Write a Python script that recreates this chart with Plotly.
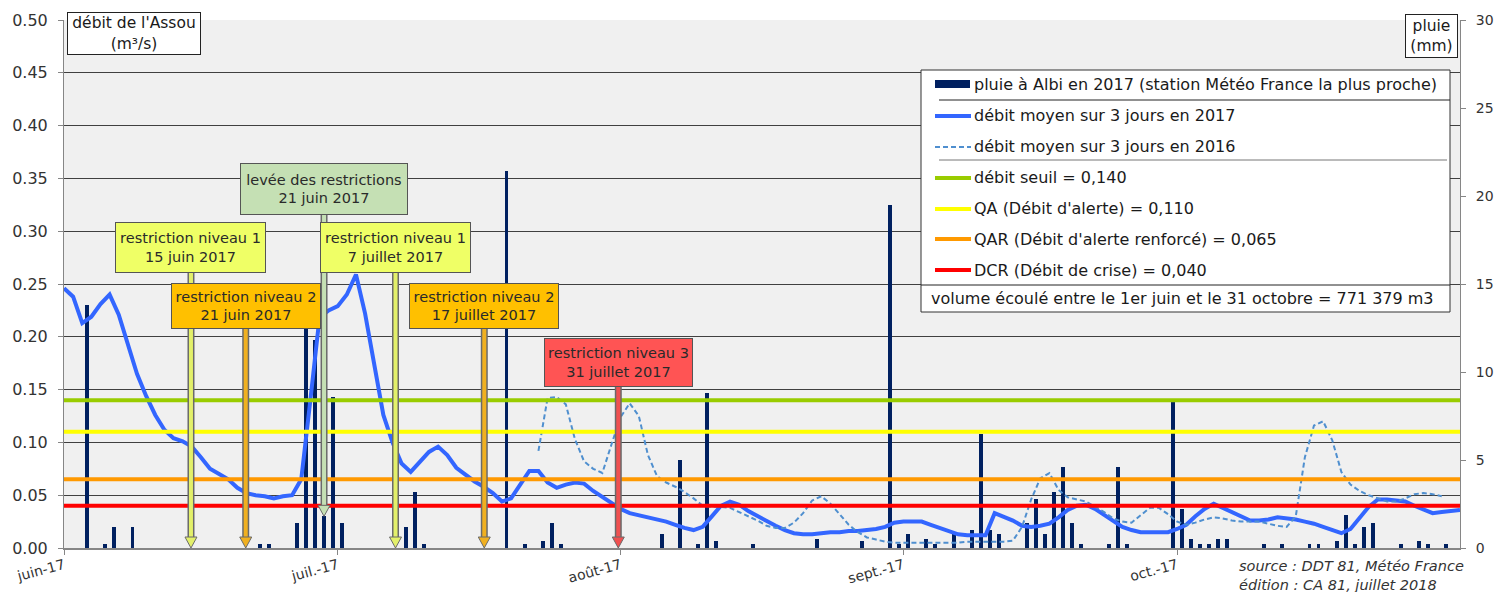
import pandas as pd
import plotly.graph_objects as go

# ---------------- data ----------------
START_2017 = "2017-06-01"
flow_2017 = [
    0.246, 0.238, 0.213, 0.219, 0.231, 0.240, 0.221, 0.192, 0.165, 0.144,
    0.126, 0.112, 0.104, 0.101, 0.096, 0.086, 0.075, 0.070, 0.065, 0.057,
    0.052, 0.050, 0.049, 0.047, 0.049, 0.050, 0.065, 0.140, 0.218, 0.225,
    0.229, 0.240, 0.259, 0.222, 0.172, 0.126, 0.100, 0.080, 0.072, 0.081,
    0.091, 0.096, 0.088, 0.076, 0.069, 0.063, 0.058, 0.052, 0.044, 0.047,
    0.060, 0.073, 0.073, 0.062, 0.057, 0.060, 0.062, 0.061, 0.054, 0.048,
    0.042, 0.037, 0.033, 0.031, 0.029, 0.027, 0.025, 0.022, 0.019, 0.017,
    0.020, 0.030, 0.040, 0.044, 0.041, 0.035, 0.030, 0.025, 0.021, 0.017,
    0.014, 0.013, 0.013, 0.014, 0.015, 0.015, 0.016, 0.016, 0.017, 0.018,
    0.020, 0.024, 0.025, 0.025, 0.025, 0.022, 0.019, 0.016, 0.013, 0.012,
    0.012, 0.012, 0.033, 0.030, 0.026, 0.021, 0.020, 0.021, 0.023, 0.029,
    0.036, 0.040, 0.041, 0.037, 0.031, 0.025, 0.020, 0.017, 0.015, 0.015,
    0.015, 0.015, 0.018, 0.022, 0.030, 0.037, 0.042, 0.038, 0.034, 0.030,
    0.026, 0.026, 0.027, 0.029, 0.028, 0.027, 0.025, 0.023, 0.020, 0.017,
    0.014, 0.018, 0.028, 0.039, 0.046, 0.046, 0.045, 0.044, 0.040, 0.036,
    0.033, 0.034, 0.035, 0.036,
]

START_2016 = "2017-07-23"
flow_2016 = [
    0.092, 0.142, 0.143, 0.136, 0.103, 0.082, 0.075, 0.071, 0.098, 0.124,
    0.137, 0.125, 0.088, 0.068, 0.062, 0.058, 0.053, 0.047, 0.040, 0.039,
    0.039, 0.038, 0.034, 0.030, 0.026, 0.021, 0.019, 0.019, 0.024, 0.033,
    0.045, 0.049, 0.042, 0.032, 0.022, 0.015, 0.010, 0.008, 0.006, 0.005,
    0.005, 0.005, 0.005, 0.005, 0.005, 0.005, 0.005, 0.006, 0.006, 0.006,
    0.006, 0.006, 0.007, 0.020, 0.046, 0.066, 0.071, 0.055, 0.048, 0.046,
    0.044, 0.039, 0.034, 0.028, 0.025, 0.024, 0.031, 0.038, 0.038, 0.032,
    0.025, 0.022, 0.024, 0.027, 0.029, 0.028, 0.026, 0.025, 0.025, 0.025,
    0.023, 0.021, 0.020, 0.030, 0.086, 0.116, 0.120, 0.102, 0.072, 0.060,
    0.054, 0.050, 0.047, 0.044, 0.044, 0.047, 0.051, 0.052, 0.051, 0.049,
]

rain_dates = [
    "2017-06-03", "2017-06-05", "2017-06-06", "2017-06-08", "2017-06-22", "2017-06-23",
    "2017-06-26", "2017-06-27", "2017-06-28", "2017-06-29", "2017-06-30", "2017-07-01",
    "2017-07-08", "2017-07-09", "2017-07-10", "2017-07-19", "2017-07-21", "2017-07-23",
    "2017-07-24", "2017-07-25", "2017-08-05", "2017-08-07", "2017-08-09", "2017-08-10",
    "2017-08-11", "2017-08-15", "2017-08-22", "2017-08-27", "2017-08-30", "2017-08-31",
    "2017-09-01", "2017-09-03", "2017-09-04", "2017-09-06", "2017-09-08", "2017-09-09",
    "2017-09-10", "2017-09-11", "2017-09-14", "2017-09-15", "2017-09-16", "2017-09-17",
    "2017-09-18", "2017-09-19", "2017-09-20", "2017-09-23", "2017-09-24", "2017-09-25",
    "2017-09-30", "2017-10-01", "2017-10-02", "2017-10-03", "2017-10-04", "2017-10-05",
    "2017-10-06", "2017-10-10", "2017-10-12", "2017-10-15", "2017-10-16", "2017-10-18",
    "2017-10-19", "2017-10-20", "2017-10-21", "2017-10-22", "2017-10-25", "2017-10-27",
    "2017-10-28", "2017-10-30",
]
rain_mm = [
    13.8, 0.2, 1.2, 1.2, 0.2, 0.2,
    1.4, 13.5, 11.8, 1.8, 8.6, 1.4,
    1.2, 3.2, 0.2, 21.4, 0.2, 0.4,
    1.4, 0.2, 0.8, 5.0, 0.2, 8.8,
    0.4, 0.2, 0.5, 0.4, 19.5, 0.2,
    0.8, 0.5, 0.2, 0.8, 1.0, 6.5,
    1.0, 0.8, 1.4, 2.8, 0.8, 3.2,
    4.6, 1.4, 0.2, 0.2, 4.6, 0.2,
    8.3, 2.2, 0.5, 0.2, 0.2, 0.5,
    0.5, 0.2, 0.2, 0.2, 0.2, 0.4,
    1.9, 0.2, 1.2, 1.4, 0.2, 0.4,
    0.2, 0.2,
]

threshold_names = ["débit seuil = 0,140", "QA (Débit d'alerte) = 0,110",
                   "QAR (Débit d'alerte renforcé) = 0,065", "DCR (Débit de crise) = 0,040"]
threshold_values = [0.140, 0.110, 0.065, 0.040]

event_labels = ["restriction niveau 1<br>15 juin 2017", "restriction niveau 2<br>21 juin 2017",
                "levée des restrictions<br>21 juin 2017", "restriction niveau 1<br>7 juillet 2017",
                "restriction niveau 2<br>17 juillet 2017", "restriction niveau 3<br>31 juillet 2017"]
event_dates = ["2017-06-14 22:00", "2017-06-20 22:00", "2017-06-29 12:00",
               "2017-07-07 08:00", "2017-07-17 01:30", "2017-07-31 18:00"]

month_ticks = ["2017-06-01", "2017-07-01", "2017-08-01", "2017-09-01", "2017-10-01"]
month_labels = ["juin-17", "juil.-17", "août-17", "sept.-17", "oct.-17"]

volume_text = "volume écoulé entre le 1er juin et le 31 octobre = 771 379 m3"

# ---------------- styles / layout ----------------
FONT = "Verdana, DejaVu Sans, sans-serif"
TXT = "#333333"
W, H = 1497, 592
PL, PR, PT, PB = 64, 1460, 20, 548
YMAX = 0.5
PX_PER_UNIT = (PB - PT) / YMAX


def px(x):
    return (x - PL) / (PR - PL)


def py(y):
    return (PB - y) / (PB - PT)


NAVY = "#002060"
BLUE17 = "#3366ff"
BLUE16 = "#4f8fcf"
thr_colors = ["#99cc00", "#ffff00", "#ff9900", "#ff0000"]

ev_fill = ["#efff66", "#ffc000", "#c5e0b4", "#efff66", "#ffc000", "#ff5454"]
ev_arrow = ["#e3f06a", "#f0b020", "#c5e0b4", "#e3f06a", "#f0b020", "#f05050"]
ev_box_y = [0.285, 0.2296, 0.3404, 0.285, 0.2296, 0.176]
ev_tip_y = [0.0, 0.0, 0.030, 0.0, 0.0, 0.0]
ev_w = [147, 146, 164, 147, 146, 145]
ev_h = [47, 42, 48, 47, 42, 45]

x17 = pd.date_range(START_2017, periods=len(flow_2017), freq="D")
x16 = pd.date_range(START_2016, periods=len(flow_2016), freq="D")
xr = pd.to_datetime(rain_dates) + pd.Timedelta(hours=12)
x_start, x_end = pd.Timestamp("2017-06-01"), pd.Timestamp("2017-11-01")

fig = go.Figure()
fig.add_trace(go.Bar(x=xr, y=rain_mm, yaxis="y", marker=dict(color=NAVY, line=dict(width=0)),
                     width=0.42 * 86400000, name="pluie à Albi en 2017 (station Météo France la plus proche)",
                     showlegend=False))
fig.add_trace(go.Scatter(x=x17, y=flow_2017, yaxis="y2", mode="lines",
                         line=dict(color=BLUE17, width=4), name="débit moyen sur 3 jours en 2017",
                         showlegend=False))
fig.add_trace(go.Scatter(x=x16, y=flow_2016, yaxis="y2", mode="lines",
                         line=dict(color=BLUE16, width=2, dash="5px,3px"),
                         name="débit moyen sur 3 jours en 2016", showlegend=False))
for name, v, c in zip(threshold_names, threshold_values, thr_colors):
    fig.add_trace(go.Scatter(x=[x_start, x_end], y=[v, v], yaxis="y2", mode="lines",
                             line=dict(color=c, width=4), name=name, showlegend=False))

shapes = []
annotations = []

# callouts with arrows
head_h = 11
for lab, d, fill, afill, by, ty, bw, bh in zip(event_labels, event_dates, ev_fill, ev_arrow,
                                                ev_box_y, ev_tip_y, ev_w, ev_h):
    y_head_top = ty + head_h / PX_PER_UNIT
    shapes.append(dict(type="line", xref="x", yref="y2", x0=d, x1=d, y0=y_head_top, y1=by,
                       line=dict(color="#6a6a6a", width=7), layer="above"))
    shapes.append(dict(type="line", xref="x", yref="y2", x0=d, x1=d, y0=y_head_top, y1=by,
                       line=dict(color=afill, width=4), layer="above"))
    shapes.append(dict(type="path", xref="x", yref="y2", xsizemode="pixel", ysizemode="pixel",
                       xanchor=d, yanchor=ty, path="M -6 11 L 6 11 L 0 0 Z",
                       fillcolor=afill, line=dict(color="#6a6a6a", width=1), layer="above"))
    annotations.append(dict(x=d, y=by, xref="x", yref="y2", text=lab, showarrow=False,
                            bgcolor=fill, bordercolor="#555555", borderwidth=1, borderpad=1,
                            width=bw, height=bh, align="center", valign="middle",
                            font=dict(family=FONT, size=14.5, color="#2a2a2a")))

# manual legend box
LX0, LX1, LY0, LY1 = 921, 1450, 70, 312
shapes.append(dict(type="rect", xref="paper", yref="paper", x0=px(LX0), x1=px(LX1),
                   y0=py(LY1), y1=py(LY0), fillcolor="white", line=dict(color="#333333", width=1),
                   layer="above"))
shapes.append(dict(type="line", xref="paper", yref="paper", x0=px(939), x1=px(LX1), y0=py(100),
                   y1=py(100), line=dict(color="#222222", width=1), layer="above"))
shapes.append(dict(type="line", xref="paper", yref="paper", x0=px(939), x1=px(1447), y0=py(160),
                   y1=py(160), line=dict(color="#777777", width=1), layer="above"))
shapes.append(dict(type="line", xref="paper", yref="paper", x0=px(LX0), x1=px(LX1), y0=py(285),
                   y1=py(285), line=dict(color="#222222", width=1), layer="above"))

leg_names = ["pluie à Albi en 2017 (station Météo France la plus proche)",
             "débit moyen sur 3 jours en 2017", "débit moyen sur 3 jours en 2016"] + threshold_names
leg_rows = [84, 116, 147, 178, 209, 239, 270]
leg_styles = [None, dict(color=BLUE17, width=4), dict(color=BLUE16, width=2, dash="5px,3px")] + \
             [dict(color=c, width=4) for c in thr_colors]
LEG_FS = 16
for name, row, st in zip(leg_names, leg_rows, leg_styles):
    if st is None:
        shapes.append(dict(type="rect", xref="paper", yref="paper", x0=px(935), x1=px(970),
                           y0=py(row + 4), y1=py(row - 4), fillcolor=NAVY, line=dict(width=0),
                           layer="above"))
    else:
        shapes.append(dict(type="line", xref="paper", yref="paper", x0=px(935), x1=px(971),
                           y0=py(row), y1=py(row), line=st, layer="above"))
    annotations.append(dict(x=px(972), y=py(row), xref="paper", yref="paper", text=name,
                            showarrow=False, xanchor="left", yanchor="middle",
                            font=dict(family=FONT, size=LEG_FS, color="#1a1a1a")))
annotations.append(dict(x=px(929), y=py(299), xref="paper", yref="paper", text=volume_text,
                        showarrow=False, xanchor="left", yanchor="middle",
                        font=dict(family=FONT, size=LEG_FS, color="#1a1a1a")))

# axis title boxes
annotations.append(dict(x=px(67), y=py(12), xref="paper", yref="paper", xanchor="left", yanchor="top",
                        text="débit de l'Assou<br>(m³/s)", showarrow=False, bgcolor="white",
                        bordercolor="#222222", borderwidth=1, borderpad=1, width=130, height=39,
                        font=dict(family=FONT, size=15.5, color="#1a1a1a")))
annotations.append(dict(x=px(1405), y=py(14), xref="paper", yref="paper", xanchor="left", yanchor="top",
                        text="pluie<br>(mm)", showarrow=False, bgcolor="white",
                        bordercolor="#222222", borderwidth=1, borderpad=1, width=49, height=40,
                        font=dict(family=FONT, size=15.5, color="#1a1a1a")))

# source
annotations.append(dict(x=px(1237), y=py(575), xref="paper", yref="paper", xanchor="left",
                        yanchor="middle", align="left", showarrow=False,
                        text="<i>source : DDT 81, Météo France</i><br><i>édition : CA 81, juillet 2018</i>",
                        font=dict(family=FONT, size=14.5, color="#333333")))

fig.update_layout(
    width=W, height=H,
    margin=dict(l=PL, r=W - PR, t=PT, b=H - PB, pad=0, autoexpand=False),
    paper_bgcolor="white", plot_bgcolor="#f0f0f0",
    showlegend=False, bargap=0,
    font=dict(family=FONT, color=TXT),
    xaxis=dict(type="date", range=[x_start, x_end], tickvals=month_ticks, ticktext=month_labels,
               tickangle=-15, ticks="outside", ticklen=5, tickcolor="#868686", showline=True,
               linecolor="#868686", linewidth=2, showgrid=False, zeroline=False, automargin=False,
               ticklabelstandoff=-3, tickfont=dict(family=FONT, size=14, color=TXT)),
    yaxis=dict(range=[0, 30], side="right", dtick=5, tick0=0, ticks="outside", ticklen=5,
               tickcolor="#868686", showline=True, linecolor="#868686", linewidth=1,
               showgrid=False, zeroline=False, automargin=False, ticklabelstandoff=7,
               tickfont=dict(family=FONT, size=14, color=TXT)),
    yaxis2=dict(range=[0, YMAX], overlaying="y", side="left", dtick=0.05, tick0=0, tickformat=".2f",
                ticks="outside", ticklen=5, tickcolor="#868686", showline=True,
                linecolor="#868686", linewidth=1, showgrid=True, gridcolor="#404040",
                gridwidth=1, zeroline=False, automargin=False, ticklabelstandoff=7,
                tickfont=dict(family=FONT, size=16, color=TXT)),
    shapes=shapes,
    annotations=annotations,
)

fig.write_html("out.html", config={"displayModeBar": False},
               post_script="document.body.style.margin='0';document.body.style.overflow='hidden';")
